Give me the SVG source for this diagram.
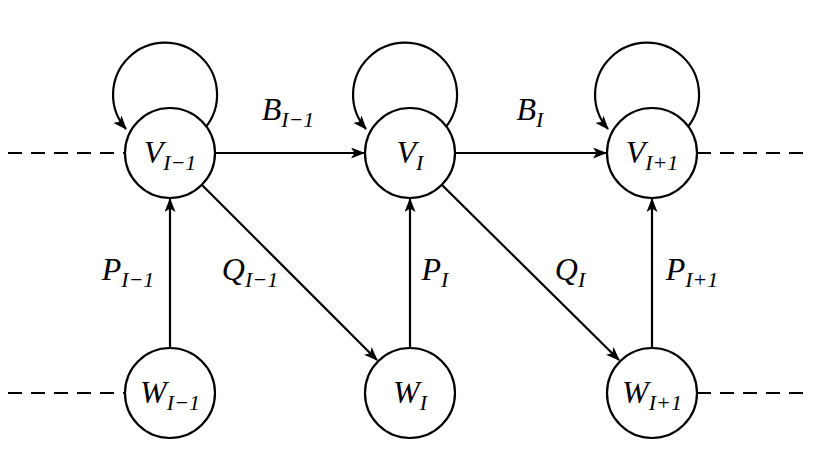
<svg xmlns="http://www.w3.org/2000/svg" width="820" height="452" viewBox="0 0 820 452">
<style>
.n{fill:#fff;stroke:#000;stroke-width:2.2}
.e{fill:none;stroke:#000;stroke-width:2.2}
.d{fill:none;stroke:#000;stroke-width:2.2;stroke-dasharray:14 9}
text{font-family:"Liberation Serif",serif;font-style:italic;font-size:32px;text-anchor:middle}
.s{font-size:22px}
</style>
<defs><marker id="a" viewBox="0 0 14 11" refX="13" refY="5.5" markerWidth="14" markerHeight="11" markerUnits="userSpaceOnUse" orient="auto"><path d="M0,0 L14,5.5 L0,11 L3.5,5.5 Z"/></marker></defs>
<rect width="820" height="452" fill="#fff"/>
<g id="connectors">
<path class="d" d="M8,153H125M697,153H812M8,393H125M697,393H812"/>
<path class="e" marker-end="url(#a)" d="M215,153H364"/>
<path class="e" marker-end="url(#a)" d="M455,153H606"/>
<path class="e" marker-end="url(#a)" d="M170,348V199"/>
<path class="e" marker-end="url(#a)" d="M410,348V199"/>
<path class="e" marker-end="url(#a)" d="M652,348V199"/>
<path class="e" marker-end="url(#a)" d="M202,185L377,360"/>
<path class="e" marker-end="url(#a)" d="M442,185L619,360"/>
<path class="e" marker-end="url(#a)" d="M205,128A52 52 0 1 0 126,129"/>
<path class="e" marker-end="url(#a)" d="M445,128A52 52 0 1 0 366,129"/>
<path class="e" marker-end="url(#a)" d="M687,128A52 52 0 1 0 608,129"/>
</g>
<g id="V1"><circle class="n" cx="170" cy="153" r="45"/><text x="170" y="163">V<tspan class="s" dy="7">I−1</tspan></text></g>
<g id="V2"><circle class="n" cx="410" cy="153" r="45"/><text x="410" y="163">V<tspan class="s" dy="7">I</tspan></text></g>
<g id="V3"><circle class="n" cx="652" cy="153" r="45"/><text x="652" y="163">V<tspan class="s" dy="7">I+1</tspan></text></g>
<g id="W1"><circle class="n" cx="170" cy="393" r="45"/><text x="170" y="403">W<tspan class="s" dy="7">I−1</tspan></text></g>
<g id="W2"><circle class="n" cx="410" cy="393" r="45"/><text x="410" y="403">W<tspan class="s" dy="7">I</tspan></text></g>
<g id="W3"><circle class="n" cx="652" cy="393" r="45"/><text x="652" y="403">W<tspan class="s" dy="7">I+1</tspan></text></g>
<g id="labels">
<text x="288" y="120">B<tspan class="s" dy="7">I−1</tspan></text>
<text x="530" y="120">B<tspan class="s" dy="7">I</tspan></text>
<text x="128" y="280">P<tspan class="s" dy="7">I−1</tspan></text>
<text x="250" y="280">Q<tspan class="s" dy="7">I−1</tspan></text>
<text x="435" y="280">P<tspan class="s" dy="7">I</tspan></text>
<text x="570" y="280">Q<tspan class="s" dy="7">I</tspan></text>
<text x="692" y="280">P<tspan class="s" dy="7">I+1</tspan></text>
</g>
</svg>
